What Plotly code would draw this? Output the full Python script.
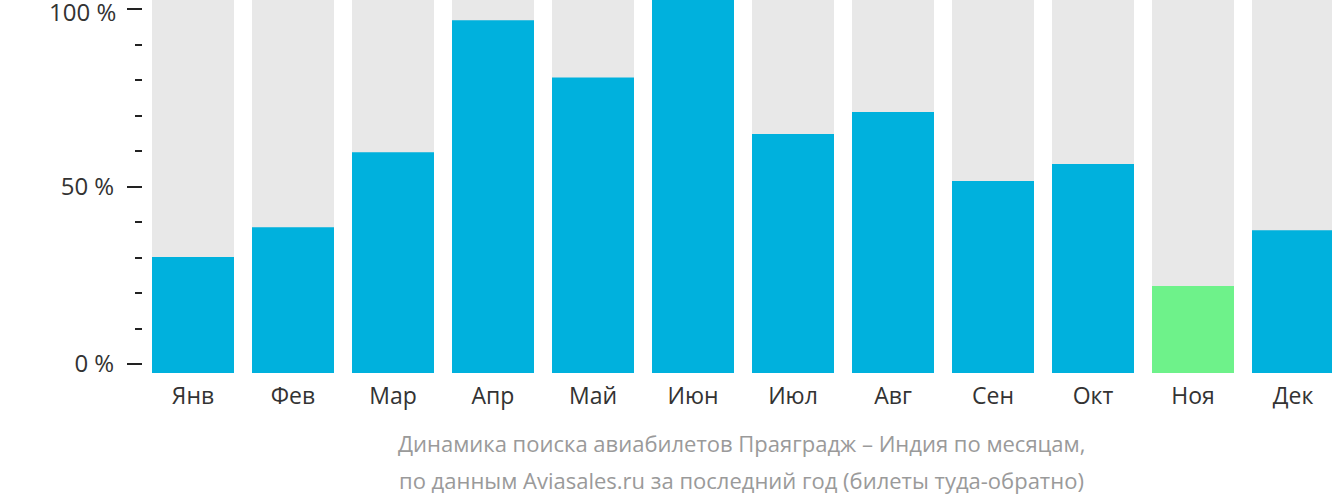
import plotly.graph_objects as go

months = ["Янв", "Фев", "Мар", "Апр", "Май", "Июн", "Июл", "Авг", "Сен", "Окт", "Ноя", "Дек"]
values = [31.1, 39.1, 59.2, 94.6, 79.2, 100, 64.1, 70.0, 51.5, 56.0, 23.3, 38.3]
background = [100] * 12
bar_colors = ["#00b1dd"] * 10 + ["#6ef28a", "#00b1dd"]
y_tick_vals = [0, 50, 100]
y_tick_text = ["0 %", "50 %", "100 %"]
y_minor_vals = [10, 20, 30, 40, 60, 70, 80, 90]
subtitle_lines = [
    "Динамика поиска авиабилетов Праяградж – Индия по месяцам,",
    "по данным Aviasales.ru за последний год (билеты туда-обратно)",
]

fig = go.Figure()
fig.add_trace(go.Bar(x=list(range(12)), y=background, width=0.82,
                     marker=dict(color="#e8e8e8", line=dict(width=0)),
                     hoverinfo="skip", showlegend=False))
fig.add_trace(go.Bar(x=list(range(12)), y=values, width=0.82,
                     marker=dict(color=bar_colors, line=dict(width=0)),
                     showlegend=False))
fig.add_trace(go.Scatter(x=[0], y=[0], yaxis="y2", mode="markers",
                         marker=dict(opacity=0), hoverinfo="skip", showlegend=False))

# top label drawn as annotation so it can sit fully inside the page
axis_text = y_tick_text[:-1] + [""]

fig.update_layout(
    width=1332, height=502,
    margin=dict(l=143, r=0, t=0, b=129, autoexpand=False),
    paper_bgcolor="white", plot_bgcolor="white",
    barmode="overlay",
    font=dict(family="Open Sans", color="#333333"),
    xaxis=dict(range=[-0.5, 11.39], tickvals=list(range(12)), ticktext=months,
               showgrid=False, zeroline=False, showline=False, ticks="",
               automargin=False,
               tickfont=dict(size=23, color="#333333"), ticklabelstandoff=7),
    yaxis=dict(range=[0, 100], visible=False, fixedrange=True, automargin=False),
    yaxis2=dict(overlaying="y", side="left", anchor="x", range=[-2.535, 102.535],
                tickvals=y_tick_vals, ticktext=axis_text,
                ticks="outside", ticklen=15, tickwidth=2, tickcolor="#222222",
                minor=dict(tickvals=y_minor_vals, ticks="outside", ticklen=7,
                           tickwidth=2, tickcolor="#222222"),
                showgrid=False, zeroline=False, showline=False,
                automargin=False, ticklabeloverflow="allow",
                tickfont=dict(size=24, color="#333333"), ticklabelstandoff=8),
)

fig.add_annotation(text=y_tick_text[-1], xref="paper", yref="y2",
                   x=-0.0219, y=y_tick_vals[-1], xanchor="right", yanchor="middle",
                   yshift=-2, showarrow=False, borderpad=0,
                   font=dict(size=24, color="#333333", family="Open Sans"))

for i, line in enumerate(subtitle_lines):
    fig.add_annotation(text=line, xref="paper", yref="paper",
                       x=0.503, y=[-0.1877, -0.2869][i],
                       xanchor="center", yanchor="middle", showarrow=False,
                       font=dict(size=22, color="#9a9a9a", family="Open Sans"))

fig.write_html("out.html")
